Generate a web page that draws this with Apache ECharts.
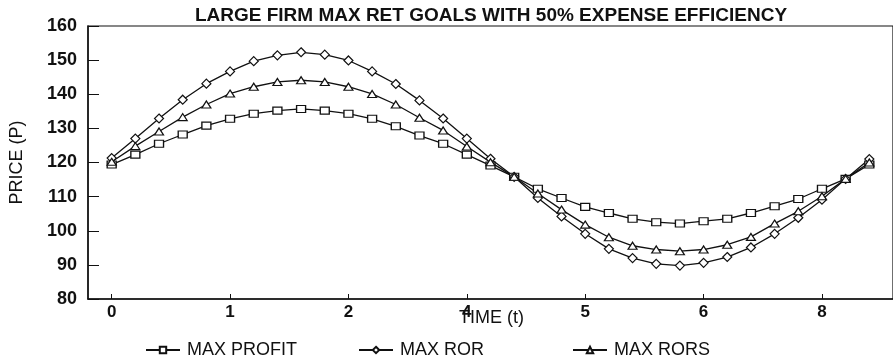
<!DOCTYPE html>
<html>
<head>
<meta charset="utf-8">
<script src="https://cdn.jsdelivr.net/npm/echarts@6/dist/echarts.min.js"></script>
<style>
  html, body { margin: 0; padding: 0; background: #fff; }
  #chart { width: 893px; height: 358px; }
</style>
</head>
<body>
<div id="chart"></div>
<script>
// Time steps (t) for each plotted point
const times = [0, 0.2, 0.4, 0.6, 0.8, 1.0, 1.2, 1.4, 1.6, 1.8, 2.0, 2.2, 2.4, 2.6, 2.8, 3.0,
  3.2, 3.4, 3.6, 3.8, 4.0, 4.2, 4.4, 4.6, 4.8, 5.0, 5.2, 5.4, 5.6, 5.8, 6.0, 6.2, 6.4];

// Price paths for each goal
const maxProfit = [119.4, 122.3, 125.5, 128.2, 130.8, 132.8, 134.3, 135.2, 135.7, 135.2, 134.3,
  132.8, 130.6, 127.9, 125.5, 122.3, 119.1, 115.8, 112.3, 109.6, 107.0, 105.2, 103.5, 102.5,
  102.1, 102.8, 103.5, 105.2, 107.2, 109.3, 112.3, 115.2, 119.4];
const maxRor = [121.3, 127.0, 132.9, 138.4, 143.1, 146.7, 149.7, 151.4, 152.3, 151.6, 149.9,
  146.7, 143.0, 138.2, 132.9, 127.0, 121.1, 115.8, 109.6, 104.2, 99.1, 94.7, 92.0, 90.3,
  89.8, 90.6, 92.3, 95.1, 99.1, 103.8, 109.1, 115.2, 121.0];
const maxRors = [120.2, 124.8, 129.1, 133.3, 137.0, 140.2, 142.2, 143.6, 144.1, 143.6, 142.2,
  140.1, 137.0, 133.1, 129.4, 124.7, 120.1, 115.8, 110.9, 106.2, 101.8, 98.1, 95.6, 94.5,
  94.0, 94.5, 95.9, 98.2, 102.1, 105.7, 110.1, 115.2, 120.0];

// Axis tick positions and the labels printed under them
const xTickPositions = [0, 1, 2, 3, 4, 5, 6];
const xTickLabels = ['0', '1', '2', '4', '5', '6', '8'];
const yTicks = [80, 90, 100, 110, 120, 130, 140, 150, 160];

const seriesNames = ['MAX PROFIT', 'MAX ROR', 'MAX RORS'];

const FONT = '"Liberation Sans", Arial, Helvetica, sans-serif';
const INK = '#111';

function pairs(values) {
  return times.map((t, i) => [t, values[i]]);
}

function lineSeries(name, values, symbol, size) {
  return {
    name: name,
    type: 'line',
    data: pairs(values),
    symbol: symbol,
    symbolSize: size,
    showAllSymbol: true,
    lineStyle: { color: INK, width: 1.3 },
    itemStyle: { color: '#fff', borderColor: INK, borderWidth: 1.2 },
    emphasis: { disabled: true },
    animation: false
  };
}

function legendAt(name, left) {
  return {
    data: [name],
    left: left,
    top: 336,
    itemWidth: 34,
    itemHeight: 8,
    textStyle: { fontFamily: FONT, fontSize: 18, color: INK, padding: [0, 0, 0, 2] },
    selectedMode: false
  };
}

const chart = echarts.init(document.getElementById('chart'), null, { renderer: 'canvas' });

chart.setOption({
  backgroundColor: '#fff',
  animation: false,
  grid: {
    left: 88, right: -2, top: 26, bottom: 59,
    show: true, borderColor: INK, borderWidth: 1.2, backgroundColor: 'transparent'
  },
  xAxis: {
    type: 'value',
    min: -0.2,
    max: 6.6,
    name: 'TIME (t)',
    nameLocation: 'middle',
    nameGap: 10,
    nameMoveOverlap: false,
    nameTextStyle: { fontFamily: FONT, fontSize: 18, color: INK, padding: [0, 0, 0, 2] },
    axisLine: { show: true, onZero: false, lineStyle: { color: INK, width: 1.5 } },
    axisTick: { show: true, inside: true, length: 5, customValues: xTickPositions, lineStyle: { color: INK } },
    axisLabel: {
      customValues: xTickPositions,
      formatter: function (v) {
        const i = xTickPositions.indexOf(Math.round(v));
        return i >= 0 ? xTickLabels[i] : '';
      },
      fontFamily: FONT, fontSize: 17, fontWeight: 'bold', color: INK, margin: 5
    },
    splitLine: { show: false }
  },
  yAxis: {
    type: 'value',
    min: 80,
    max: 160,
    interval: 10,
    name: 'PRICE (P)',
    nameLocation: 'middle',
    nameGap: 62,
    nameRotate: 90,
    nameMoveOverlap: false,
    nameTextStyle: { fontFamily: FONT, fontSize: 18, color: INK },
    axisLine: { show: true, onZero: false, lineStyle: { color: INK, width: 1.5 } },
    axisTick: { show: true, inside: true, length: 11, lineStyle: { color: INK } },
    axisLabel: {
      formatter: function (v) { return yTicks.indexOf(v) >= 0 ? String(v) : ''; },
      fontFamily: FONT, fontSize: 18, fontWeight: 'bold', color: INK, margin: 11
    },
    splitLine: { show: false }
  },
  legend: [
    legendAt(seriesNames[0], 140),
    legendAt(seriesNames[1], 353),
    legendAt(seriesNames[2], 567)
  ],
  graphic: [{
    type: 'text',
    x: 491,
    y: 25,
    style: {
      text: 'LARGE FIRM MAX RET GOALS WITH 50% EXPENSE EFFICIENCY',
      font: 'bold 19px ' + FONT,
      fill: INK,
      textAlign: 'center',
      textVerticalAlign: 'bottom'
    },
    z: 10
  }],
  series: [
    lineSeries(seriesNames[0], maxProfit, 'rect', [9, 7]),
    lineSeries(seriesNames[1], maxRor, 'diamond', [9, 9]),
    lineSeries(seriesNames[2], maxRors, 'triangle', [9, 7])
  ]
});
</script>
</body>
</html>
